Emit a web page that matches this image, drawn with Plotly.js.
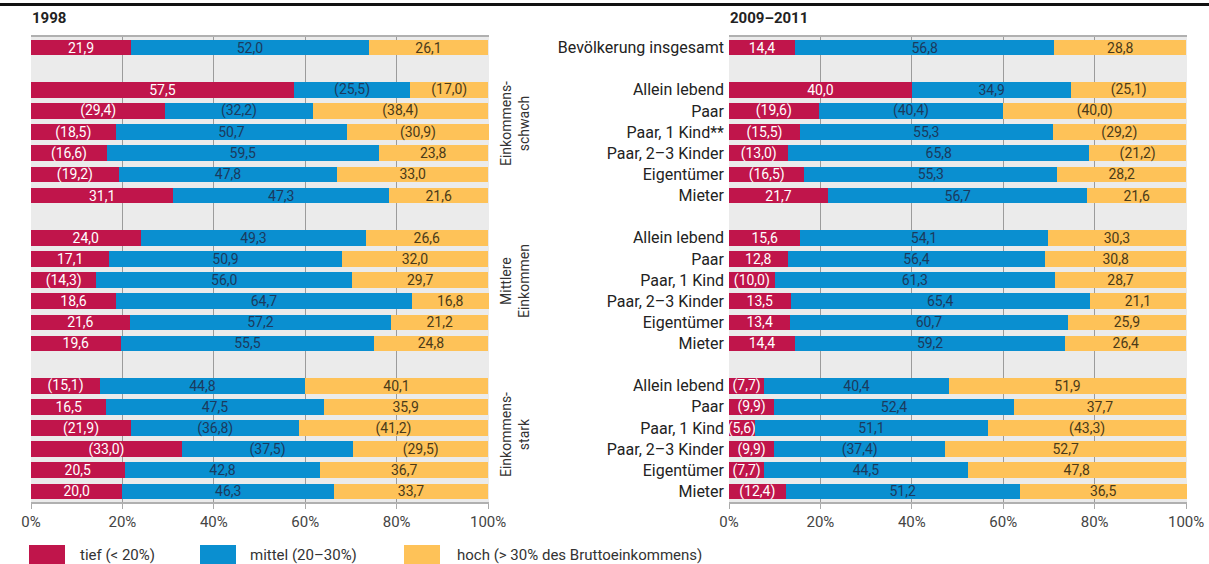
<!DOCTYPE html>
<html><head><meta charset="utf-8">
<script src="https://cdn.plot.ly/plotly-3.0.1.min.js"></script>
<style>html,body{margin:0;padding:0;background:#fff}#chart{width:1209px;height:564px}</style>
</head><body><div id="chart"></div>
<script>
const rowLabels = ["Bevölkerung insgesamt","","Allein lebend","Paar","Paar, 1 Kind**","Paar, 2–3 Kinder","Eigentümer","Mieter","","Allein lebend","Paar","Paar, 1 Kind","Paar, 2–3 Kinder","Eigentümer","Mieter","","Allein lebend","Paar","Paar, 1 Kind","Paar, 2–3 Kinder","Eigentümer","Mieter"];
const groupLabels = ["Einkommens-<br>schwach","Mittlere<br>Einkommen","Einkommens-<br>stark"];
const seriesNames = ["tief (< 20%)","mittel (20–30%)","hoch (> 30% des Bruttoeinkommens)"];
const panelTitles = ["1998","2009–2011"];
const xTickVals = [0,20,40,60,80,100];
const xTickText = ["0%","20%","40%","60%","80%","100%"];

const tief1998   = [21.9,null,57.5,29.4,18.5,16.6,19.2,31.1,null,24.0,17.1,14.3,18.6,21.6,19.6,null,15.1,16.5,21.9,33.0,20.5,20.0];
const tief1998P  = [0,0,0,1,1,1,1,0,0,0,0,1,0,0,0,0,1,0,1,1,0,0];
const mittel1998 = [52.0,null,25.5,32.2,50.7,59.5,47.8,47.3,null,49.3,50.9,56.0,64.7,57.2,55.5,null,44.8,47.5,36.8,37.5,42.8,46.3];
const mittel1998P= [0,0,1,1,0,0,0,0,0,0,0,0,0,0,0,0,0,0,1,1,0,0];
const hoch1998   = [26.1,null,17.0,38.4,30.9,23.8,33.0,21.6,null,26.6,32.0,29.7,16.8,21.2,24.8,null,40.1,35.9,41.2,29.5,36.7,33.7];
const hoch1998P  = [0,0,1,1,1,0,0,0,0,0,0,0,0,0,0,0,0,0,1,1,0,0];

const tief2009   = [14.4,null,40.0,19.6,15.5,13.0,16.5,21.7,null,15.6,12.8,10.0,13.5,13.4,14.4,null,7.7,9.9,5.6,9.9,7.7,12.4];
const tief2009P  = [0,0,0,1,1,1,1,0,0,0,0,1,0,0,0,0,1,1,1,1,1,1];
const mittel2009 = [56.8,null,34.9,40.4,55.3,65.8,55.3,56.7,null,54.1,56.4,61.3,65.4,60.7,59.2,null,40.4,52.4,51.1,37.4,44.5,51.2];
const mittel2009P= [0,0,0,1,0,0,0,0,0,0,0,0,0,0,0,0,0,0,0,1,0,0];
const hoch2009   = [28.8,null,25.1,40.0,29.2,21.2,28.2,21.6,null,30.3,30.8,28.7,21.1,25.9,26.4,null,51.9,37.7,43.3,52.7,47.8,36.5];
const hoch2009P  = [0,0,1,1,1,1,0,0,0,0,0,0,0,0,0,0,0,0,1,0,0,0];

const colors = ["#c0154b","#0a8fd0","#fec258"];
const textColors = ["#ffffff","#1b3a5e","#4a3a18"];
const FONT = "Roboto, 'Open Sans', sans-serif";
const W = 1209, H = 564;

const yIdx = rowLabels.map((_, i) => i);
function fmt(v, p) {
  if (v === null) return "";
  const s = v.toFixed(1).replace(".", ",");
  return p ? "(" + s + ")" : s;
}
function mk(vals, flags, k, xa, ya) {
  return {
    type: "bar", orientation: "h", x: vals, y: yIdx,
    xaxis: xa, yaxis: ya, name: seriesNames[k], showlegend: false,
    marker: {color: colors[k], line: {width: 0}},
    width: 0.74,
    text: vals.map((v, i) => fmt(v, flags[i])),
    textposition: "inside", insidetextanchor: "middle", textangle: 0,
    constraintext: "none",
    textfont: {family: FONT, size: 14, color: textColors[k]},
    hoverinfo: "skip", cliponaxis: false
  };
}
const data = [
  mk(tief1998, tief1998P, 0, "x", "y"),
  mk(mittel1998, mittel1998P, 1, "x", "y"),
  mk(hoch1998, hoch1998P, 2, "x", "y"),
  mk(tief2009, tief2009P, 0, "x2", "y2"),
  mk(mittel2009, mittel2009P, 1, "x2", "y2"),
  mk(hoch2009, hoch2009P, 2, "x2", "y2")
];

const px = v => v / W;
const py = v => (H - v) / H;
const yDom = [py(502), py(37)];
const XMAX = 100.2;
function xax(dom, anchor) {
  return {
    domain: dom, range: [0, XMAX], fixedrange: true, anchor: anchor,
    tickvals: xTickVals, ticktext: xTickText,
    ticks: "outside", ticklen: 5, tickcolor: "#aaaaaa", tickwidth: 1,
    tickfont: {family: FONT, size: 15, color: "#444"},
    showgrid: true, gridcolor: "#9b9b9b", gridwidth: 1,
    showline: true, linecolor: "#b0b0b0", linewidth: 2, mirror: true,
    zeroline: false
  };
}

const layout = {
  width: W, height: H, margin: {l: 0, r: 0, t: 0, b: 0},
  paper_bgcolor: "#ffffff", plot_bgcolor: "#ebebeb",
  barmode: "stack", showlegend: false,
  font: {family: FONT, color: "#222"},
  xaxis: xax([px(31), px(489)], "y"),
  xaxis2: xax([px(729), px(1187)], "y2"),
  yaxis: {domain: yDom, range: [21.5, -0.5], anchor: "x", showticklabels: false,
          showgrid: false, zeroline: false, fixedrange: true, ticks: ""},
  yaxis2: {domain: yDom, range: [21.5, -0.5], anchor: "x2",
           tickvals: yIdx, ticktext: rowLabels, ticks: "", ticklabelstandoff: 4,
           tickfont: {family: FONT, size: 16, color: "#222"},
           showgrid: false, zeroline: false, fixedrange: true},
  shapes: [
    {type: "line", xref: "paper", yref: "paper", x0: 0, x1: 1, y0: py(4.5), y1: py(4.5),
     line: {color: "#111", width: 3}}
  ],
  annotations: []
};
layout.annotations.push({xref: "paper", yref: "paper", x: px(30), y: py(18), xanchor: "left", yanchor: "middle",
  text: "<b>" + panelTitles[0] + "</b>", showarrow: false, font: {family: FONT, size: 15, color: "#222"}});
layout.annotations.push({xref: "paper", yref: "paper", x: px(728), y: py(18), xanchor: "left", yanchor: "middle",
  text: "<b>" + panelTitles[1] + "</b>", showarrow: false, font: {family: FONT, size: 15, color: "#222"}});
const groupY = [124, 281, 435];
groupLabels.forEach((g, i) => {
  layout.annotations.push({xref: "paper", yref: "paper", x: px(515), y: py(groupY[i]),
    xanchor: "center", yanchor: "middle", textangle: -90, text: g, showarrow: false,
    font: {family: FONT, size: 14, color: "#333"}});
});
// legend
const legX = [[29, 65, 78], [200, 236, 248], [404, 440, 455]];
seriesNames.forEach((s, k) => {
  layout.shapes.push({type: "rect", xref: "paper", yref: "paper",
    x0: px(legX[k][0]), x1: px(legX[k][1]), y0: py(566), y1: py(545),
    fillcolor: colors[k], line: {width: 0}});
  layout.annotations.push({xref: "paper", yref: "paper", x: px(legX[k][2]), y: py(555),
    xanchor: "left", yanchor: "middle", text: s, showarrow: false,
    font: {family: FONT, size: 15, color: "#333"}});
});

Plotly.newPlot("chart", data, layout, {displayModeBar: false, staticPlot: true});
</script>
</body></html>
